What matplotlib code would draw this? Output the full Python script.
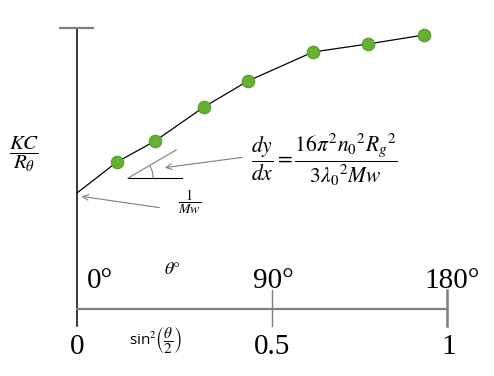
import numpy as np
import matplotlib
matplotlib.use('Agg')
import matplotlib.pyplot as plt

plt.rcParams['mathtext.fontset'] = 'stix'
plt.rcParams['font.family'] = ['Liberation Serif', 'DejaVu Serif']

# data: sin^2(theta/2) vs KC/R_theta (arbitrary units)
sin2 = [0.108, 0.211, 0.343, 0.462, 0.638, 0.786, 0.938]
kc_r = [1.47, 1.68, 2.02, 2.28, 2.57, 2.65, 2.74]
intercept = 1.16

tick_pos = [0, 0.526, 1]
tick_labels = ['0', '0.5', '1']
angle_labels = ['0°', '90°', '180°']
angle_pos = [0.062, 0.530, 1.014]

fig = plt.figure(figsize=(4.94, 3.76), dpi=100)
ax = fig.add_axes([0, 0, 1, 1])
ax.set_xlim(-77 / 370, 417 / 370)
ax.set_ylim(-0.67, 3.09)
ax.axis('off')

gray = '#7f7f7f'

# axes of the diagram
ax.plot([0, 0], [2.81, -0.17], color='black', lw=1.1)
ax.plot([-0.046, 0.043], [2.81, 2.81], color=gray, lw=1.6)
ax.plot([0, 1], [0, 0], color=gray, lw=1.6)
ax.plot([tick_pos[1]] * 2, [0.19, -0.17], color=gray, lw=1.0)
ax.plot([tick_pos[2]] * 2, [0.19, -0.17], color=gray, lw=1.8)

for p, lab in zip(tick_pos, tick_labels):
    ax.text(p + (0.005 if lab == '1' else 0), -0.38, lab, fontsize=21,
            ha='center', va='center')
for p, lab in zip(angle_pos, angle_labels):
    ax.text(p, 0.28, lab, fontsize=21, ha='center', va='center')

ax.text(0.259, 0.40, r'$\theta°$', fontsize=13, ha='center', va='center')
ax.text(0.211, -0.31, r'sin$^2\left(\dfrac{\theta}{2}\right)$', fontsize=11,
        ha='center', va='center', family=['Open Sans', 'DejaVu Sans'])

# fitted curve and points
ax.plot([0] + sin2, [intercept] + kc_r, color='black', lw=0.9, zorder=2)
ax.plot(sin2, kc_r, 'o', ms=9, mfc='#66b032', mec='#579a2b', mew=0.8, zorder=3)

ax.text(-0.143, 1.55, r'$\dfrac{KC}{R_\theta}$', fontsize=15, ha='center', va='center')

# slope triangle
ax.plot([0.138, 0.284], [1.31, 1.31], color='black', lw=0.8)
ax.plot([0.138, 0.268], [1.31, 1.59], color=gray, lw=0.8)
phi = np.radians(np.linspace(0, 30, 30))
ax.plot(0.138 + 25 / 370 * np.cos(phi), 1.31 + 0.25 * np.sin(phi), color=gray, lw=0.8)

ax.annotate('', xy=(0.230, 1.41), xytext=(0.454, 1.52),
            arrowprops=dict(arrowstyle='->', color=gray, lw=0.8))
ax.annotate('', xy=(0.005, 1.13), xytext=(0.230, 1.01),
            arrowprops=dict(arrowstyle='->', color=gray, lw=0.8))

ax.text(0.668, 1.49,
        r'$\dfrac{dy}{dx} = \dfrac{16\pi^2{n_0}^2{R_g}^2}{3{\lambda_0}^2Mw}$',
        fontsize=15.5, ha='center', va='center')
ax.text(0.303, 1.07, r'$\dfrac{1}{Mw}$', fontsize=10, ha='center', va='center')

plt.savefig('out.png')
